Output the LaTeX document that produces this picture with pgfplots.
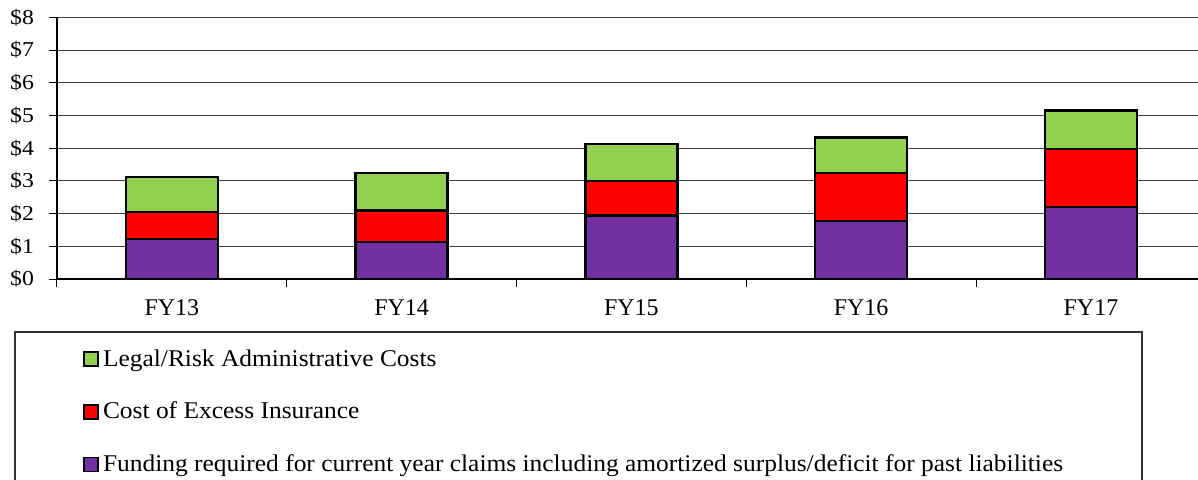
\documentclass[border=0pt]{standalone}
\usepackage{fontspec}
\setmainfont{Liberation Serif}
\newfontfamily\tickfont{Liberation Serif}[FakeStretch=1.12]
\newfontfamily\legfont{Liberation Serif}[FakeStretch=1.06]
\usepackage{pgfplots}
\pgfplotsset{compat=1.18}
\definecolor{cgreen}{HTML}{92D050}
\definecolor{cred}{HTML}{FF0000}
\definecolor{cpurple}{HTML}{7030A0}
\begin{document}
\begin{tikzpicture}
\begin{axis}[name=ax, at={(0,0)}, anchor=south west,
  scale only axis, width=574.4pt, height=130.8pt,
  xmin=-0.5, xmax=4.5, ymin=0, ymax=8,
  ybar stacked, bar width=46pt,
  axis x line*=bottom, axis y line*=left,
  axis line style={line width=0.8pt, black},
  tick align=outside, major tick length=4pt,
  tick style={black, line width=0.5pt},
  xtick={-0.5,0.5,1.5,2.5,3.5}, xticklabels={},
  extra x ticks={0,1,2,3,4},
  extra x tick labels={FY13,FY14,FY15,FY16,FY17},
  extra x tick style={major tick length=0pt, grid=none},
  xticklabel style={font=\fontsize{12}{14}\selectfont, yshift=-7pt},
  ytick={0,1,...,8},
  yticklabel={\$\pgfmathprintnumber[assume math mode=true]{\tick}},
  yticklabel style={font=\tickfont\fontsize{10.6}{12}\selectfont, xshift=-4pt},
  ymajorgrids, grid style={black!75, line width=0.5pt},
  reverse legend,
  legend image code/.code={\draw[#1, draw=black, line width=0.8pt] (0pt,-3.5pt) rectangle (7pt,3.5pt);},
  legend style={draw=none, fill=none, at={(axis description cs:0,0)}, anchor=north west,
    xshift=10pt, yshift=-31pt, font=\legfont\fontsize{12}{14}\selectfont,
    row sep=12.4pt, cells={anchor=west}},
]
\addplot[fill=cpurple, draw=black, line width=1.2pt] coordinates {(0,1.23) (1,1.14) (2,1.94) (3,1.78) (4,2.21)};
\addlegendentry{Funding required for current year claims including amortized surplus/deficit for past liabilities}
\addplot[fill=cred, draw=black, line width=1.2pt] coordinates {(0,0.82) (1,0.95) (2,1.06) (3,1.46) (4,1.77)};
\addlegendentry{Cost of Excess Insurance}
\addplot[fill=cgreen, draw=black, line width=1.2pt] coordinates {(0,1.07) (1,1.16) (2,1.13) (3,1.09) (4,1.17)};
\addlegendentry{Legal/Risk Administrative Costs}
\end{axis}
\draw[line width=0.6pt, black!80] (-21pt,-26.5pt) rectangle (542.5pt,-115pt);
\pgfresetboundingbox
\useasboundingbox (-28.5pt,-100pt) rectangle (570.5pt,139.5pt);
\end{tikzpicture}
\end{document}
